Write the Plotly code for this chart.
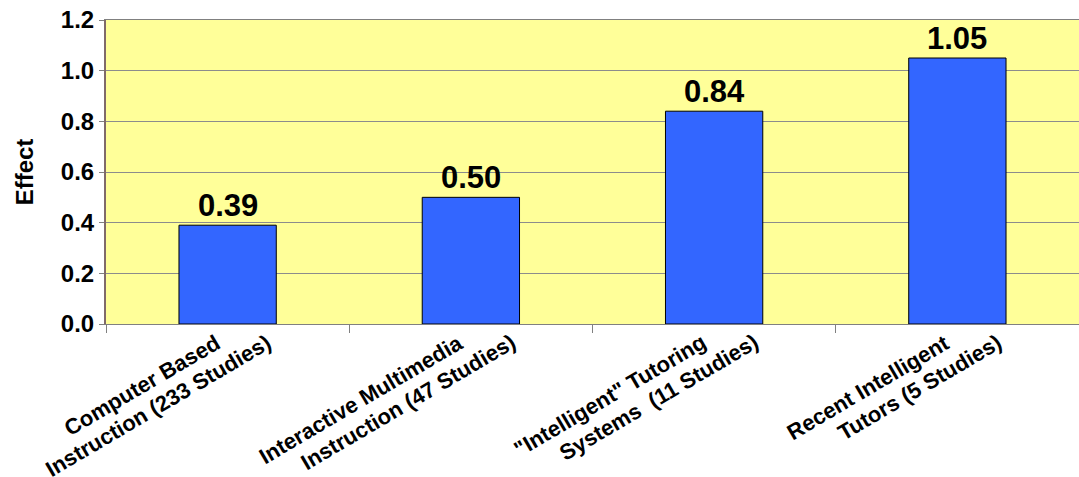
import plotly.graph_objects as go

# each category label is drawn as two rotated lines
label_lines = [
    ("Computer Based", "Instruction (233 Studies)"),
    ("Interactive Multimedia", "Instruction (47 Studies)"),
    ("\"Intelligent\" Tutoring", "Systems\u00a0\u00a0(11 Studies)"),
    ("Recent Intelligent", "Tutors (5 Studies)"),
]
effects = [0.39, 0.50, 0.84, 1.05]
y_ticks = [0.0, 0.2, 0.4, 0.6, 0.8, 1.0, 1.2]

FONT = "Arial, 'Liberation Sans', sans-serif"
keys = [f"c{i}" for i in range(len(label_lines))]

fig = go.Figure(
    go.Bar(
        x=keys,
        y=effects,
        marker=dict(color="#3366FF", line=dict(color="#000000", width=1)),
        hoverinfo="skip",
    )
)

annotations = []
# value labels above each bar
for k, v in zip(keys, effects):
    annotations.append(dict(
        x=k, y=v, xref="x", yref="y", text=f"{v:.2f}", showarrow=False,
        xanchor="center", yanchor="bottom", yshift=0,
        font=dict(family=FONT, size=31, color="#000000", weight="bold"),
    ))

# rotated category labels: the end of each line sits just under the axis,
# the second line reaching further right than the first
line_xshift = [-1, 51]
for k, lines in zip(keys, label_lines):
    for j, txt in enumerate(lines):
        annotations.append(dict(
            x=k, y=0, xref="x", yref="y", text=txt, showarrow=False,
            textangle=-30.5,
            xanchor="right", yanchor="top",
            xshift=line_xshift[j], yshift=-3,
            font=dict(family=FONT, size=22, color="#000000", weight="bold"),
        ))

fig.update_layout(
    width=1079, height=477,
    margin=dict(l=106, r=0, t=20, b=153),
    paper_bgcolor="#FFFFFF",
    plot_bgcolor="#FFFF99",
    bargap=0.6,
    showlegend=False,
    annotations=annotations,
    xaxis=dict(
        type="category",
        range=[-0.5, len(keys) - 0.5],
        autorange=False,
        showticklabels=False,
        tickson="boundaries",
        ticks="outside", ticklen=8, tickcolor="#808080",
        showgrid=False,
        showline=True, linecolor="#808080", linewidth=1, mirror=True,
        zeroline=False,
    ),
    yaxis=dict(
        range=[0, 1.2],
        autorange=False,
        tickvals=y_ticks,
        ticktext=[f"{t:.1f}" for t in y_ticks],
        ticks="outside", ticklen=5, tickcolor="#808080",
        tickfont=dict(family=FONT, size=24, color="#000000", weight="bold"),
        showgrid=True, gridcolor="#8C8C8C", gridwidth=1,
        showline=True, linecolor="#806A6A", linewidth=2,
        zeroline=False,
        title=dict(text="Effect", standoff=20,
                   font=dict(family=FONT, size=24, color="#000000", weight="bold")),
    ),
)

fig.write_html("out.html")
